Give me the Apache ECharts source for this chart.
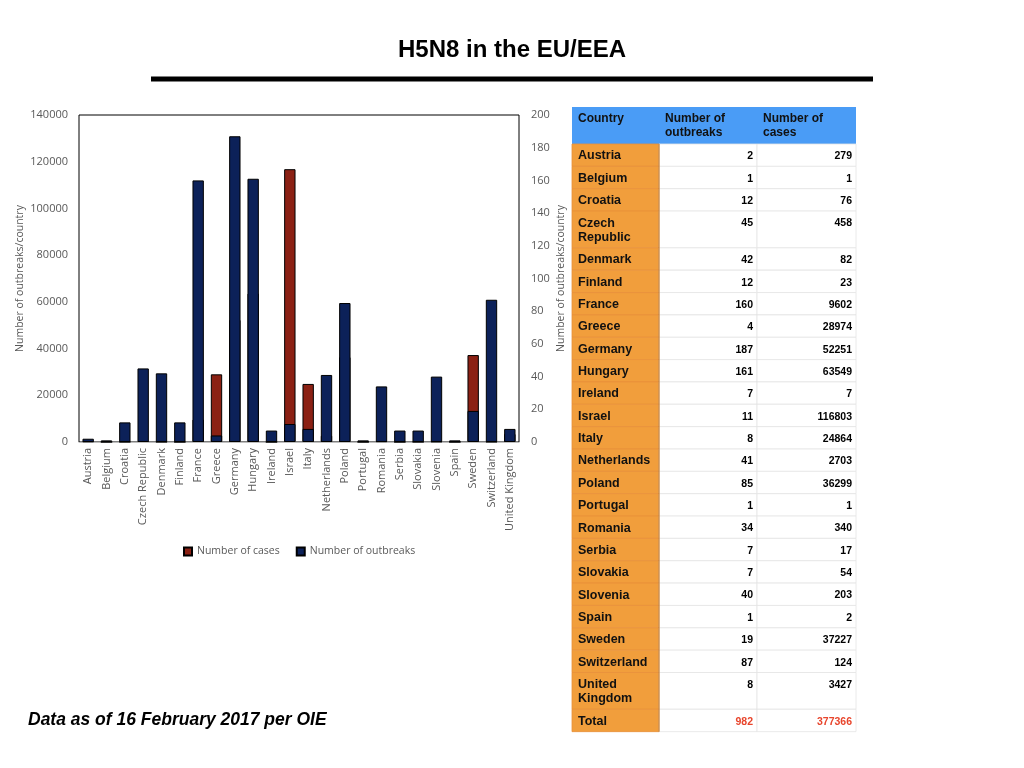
<!DOCTYPE html>
<html>
<head>
<meta charset="utf-8">
<script src="https://cdn.jsdelivr.net/npm/echarts@6/dist/echarts.min.js"></script>
<style>
html,body{margin:0;padding:0;background:#fff;}
#chart{width:1024px;height:768px;}
</style>
</head>
<body>
<div id="chart"></div>
<script>
const countries = ['Austria','Belgium','Croatia','Czech Republic','Denmark','Finland','France','Greece','Germany','Hungary','Ireland','Israel','Italy','Netherlands','Poland','Portugal','Romania','Serbia','Slovakia','Slovenia','Spain','Sweden','Switzerland','United Kingdom'];
const outbreaks = [2,1,12,45,42,12,160,4,187,161,7,11,8,41,85,1,34,7,7,40,1,19,87,8];
const cases = [279,1,76,458,82,23,9602,28974,52251,63549,7,116803,24864,2703,36299,1,340,17,54,203,2,37227,124,3427];
const totalOutbreaks = 982;
const totalCases = 377366;
const tableHeaders = ['Country','Number of\noutbreaks','Number of\ncases'];
const seriesNames = ['Number of cases','Number of outbreaks'];

const chart = echarts.init(document.getElementById('chart'));

// table layout
const tx = [572, 659, 757, 856];
const headerTop = 107, headerH = 37;
const rowH1 = 22.35, rowH2 = 36.8;
const nameFont = 'bold 12.5px "Liberation Sans", Arial, sans-serif';
const numFont = 'bold 10.5px "Liberation Sans", Arial, sans-serif';
const cv = document.createElement('canvas').getContext('2d');
cv.font = nameFont;
function wrapName(n){
  if (cv.measureText(n).width <= 78) return n;
  const parts = n.split(' ');
  return parts[0] + '\n' + parts.slice(1).join(' ');
}
const g = [];
// header
g.push({type:'rect', shape:{x:tx[0], y:headerTop, width:tx[3]-tx[0], height:headerH}, style:{fill:'#4a9cf6'}});
tableHeaders.forEach((h,i)=>{
  g.push({type:'text', x:tx[i]+6, y:headerTop+5, style:{text:h, font:'bold 12px "Liberation Sans", Arial, sans-serif', fill:'#111', lineHeight:14, verticalAlign:'top'}});
});
const rows = countries.map((c,i)=>({name:wrapName(c), o:String(outbreaks[i]), c:String(cases[i]), color:'#000'}));
rows.push({name:'Total', o:String(totalOutbreaks), c:String(totalCases), color:'#e8452c'});
let y = headerTop + headerH;
const yStart = y;
rows.forEach(r=>{
  const h = r.name.indexOf('\n')>=0 ? rowH2 : rowH1;
  g.push({type:'rect', shape:{x:tx[0], y:y, width:tx[1]-tx[0], height:h}, style:{fill:'#f19e3c', stroke:'#e8913a', lineWidth:0.8}});
  g.push({type:'rect', shape:{x:tx[1], y:y, width:tx[2]-tx[1], height:h}, style:{fill:'#fff', stroke:'#e4e4e4', lineWidth:0.8}});
  g.push({type:'rect', shape:{x:tx[2], y:y, width:tx[3]-tx[2], height:h}, style:{fill:'#fff', stroke:'#e4e4e4', lineWidth:0.8}});
  g.push({type:'text', x:tx[0]+6, y:y+5, style:{text:r.name, font:nameFont, fill:'#111', lineHeight:14, verticalAlign:'top'}});
  g.push({type:'text', x:tx[2]-4, y:y+7, style:{text:r.o, font:numFont, fill:r.color, align:'right', verticalAlign:'top'}});
  g.push({type:'text', x:tx[3]-4, y:y+7, style:{text:r.c, font:numFont, fill:r.color, align:'right', verticalAlign:'top'}});
  y += h;
});
g.push({type:'line', shape:{x1:tx[1], y1:yStart, x2:tx[1], y2:y}, style:{stroke:'#c97c2c', lineWidth:1.2}});
// title rule and footer
g.push({type:'line', shape:{x1:151, y1:79, x2:873, y2:79}, style:{stroke:'#000', lineWidth:5}});
g.push({type:'text', x:512, y:50, style:{text:'H5N8 in the EU/EEA', font:'bold 24px "Liberation Sans", Arial, sans-serif', fill:'#000', align:'center', verticalAlign:'middle'}});
g.push({type:'text', x:28, y:720, style:{text:'Data as of 16 February 2017 per OIE', font:'italic bold 17.5px "Liberation Sans", Arial, sans-serif', fill:'#000', align:'left', verticalAlign:'middle'}});

const axisFont = {color:'#595959', fontSize:11, fontFamily:'"Open Sans", sans-serif'};

chart.setOption({
  animation:false,
  backgroundColor:'#fff',
  grid:{left:79, right:505, top:115, bottom:326, show:true, borderColor:'#000', borderWidth:1},
  legend:{
    data:seriesNames, left:178, top:541, itemWidth:8, itemHeight:8, itemGap:16,
    icon:'rect',
    textStyle:{color:'#595959', fontSize:10.5, fontFamily:'"Open Sans", sans-serif'}
  },
  xAxis:{
    type:'category', data:countries,
    axisLine:{lineStyle:{color:'#bfbfbf'}},
    axisTick:{show:false},
    axisLabel:Object.assign({rotate:90, interval:0, margin:6}, axisFont)
  },
  yAxis:[
    {type:'value', min:0, max:140000, interval:20000, name:'Number of outbreaks/country',
     nameLocation:'middle', nameGap:53, nameTextStyle:Object.assign({}, axisFont, {fontSize:10.5}),
     axisLine:{show:false}, axisTick:{show:false}, splitLine:{show:false},
     axisLabel:Object.assign({margin:11, formatter:v=>String(v)}, axisFont)},
    {type:'value', min:0, max:200, interval:20, name:'Number of outbreaks/country',
     nameLocation:'middle', nameGap:37, nameRotate:90, nameTextStyle:Object.assign({}, axisFont, {fontSize:10.5}),
     axisLine:{show:false}, axisTick:{show:false}, splitLine:{show:false},
     axisLabel:Object.assign({margin:12, formatter:v=>String(v)}, axisFont)}
  ],
  series:[
    {name:seriesNames[0], type:'bar', yAxisIndex:0, data:cases, barWidth:'62%', barGap:'-100%',
     itemStyle:{color:'#8b2114', borderColor:'#000', borderWidth:1}},
    {name:seriesNames[1], type:'bar', yAxisIndex:1, data:outbreaks, barWidth:'62%', barGap:'-100%',
     itemStyle:{color:'#0c2159', borderColor:'#000', borderWidth:1}}
  ],
  graphic:g
});
</script>
</body>
</html>
